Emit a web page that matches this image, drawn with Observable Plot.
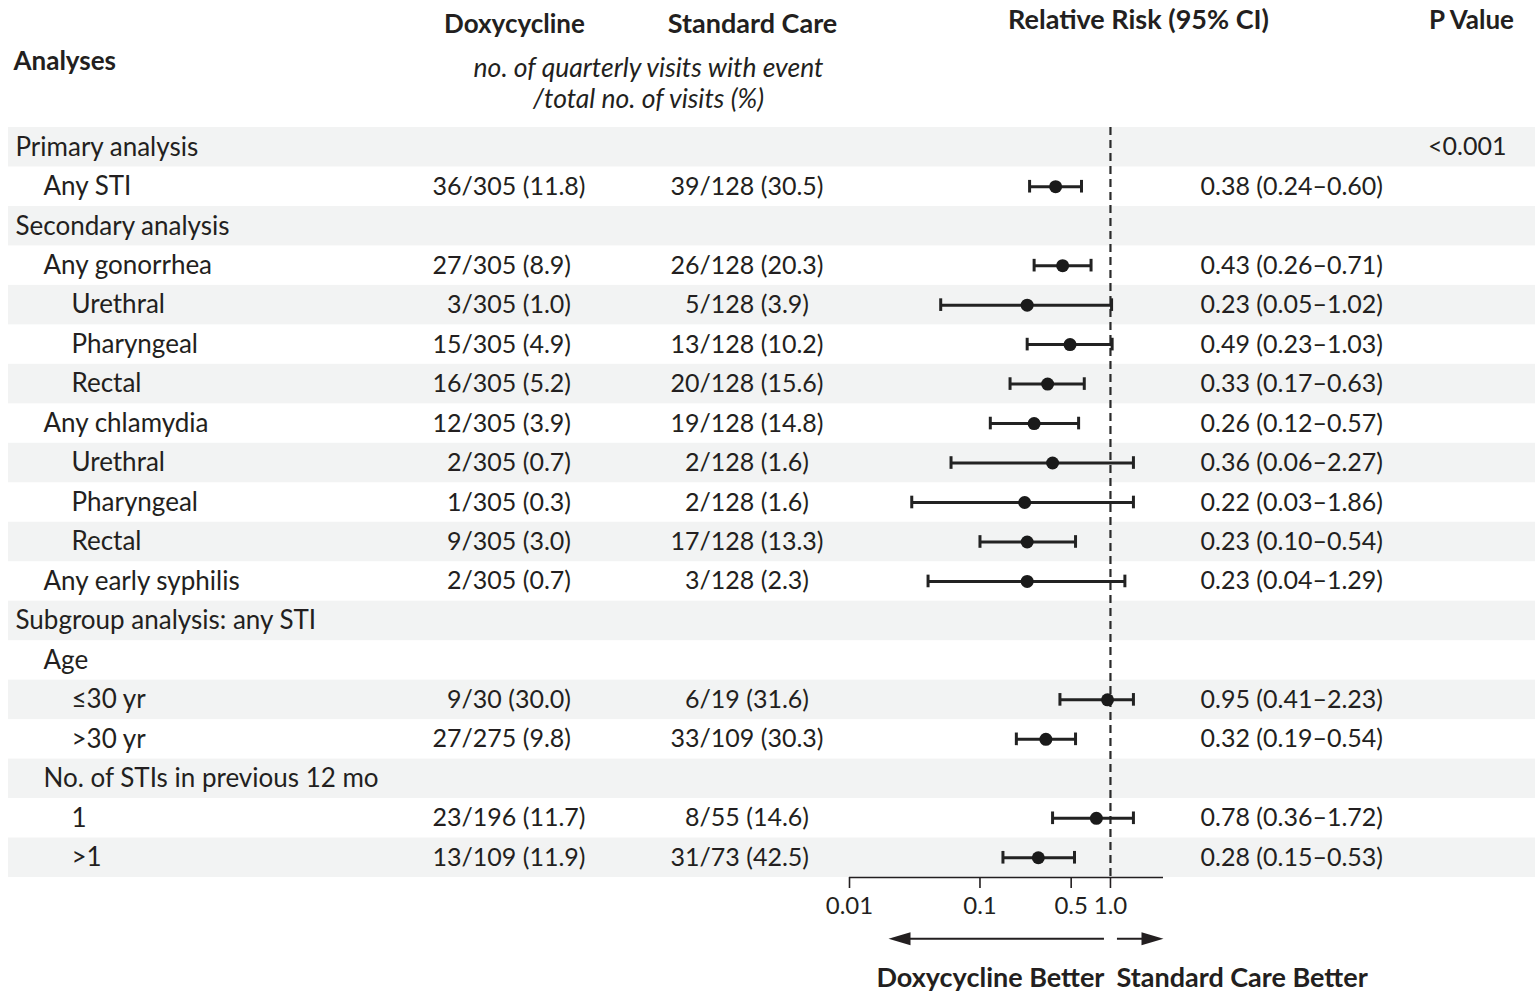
<!DOCTYPE html>
<html>
<head>
<meta charset="utf-8">
<script src="https://cdn.jsdelivr.net/npm/d3@7"></script>
<script src="https://cdn.jsdelivr.net/npm/@observablehq/plot@0.6"></script>
<style>
  html, body { margin: 0; padding: 0; background: #ffffff; }
  #chart svg { display: block; }
</style>
</head>
<body>
<div id="chart"></div>
<script>
// ---------- data ----------
const analyses = [
  "Primary analysis", "Any STI", "Secondary analysis", "Any gonorrhea", "Urethral",
  "Pharyngeal", "Rectal", "Any chlamydia", "Urethral", "Pharyngeal", "Rectal",
  "Any early syphilis", "Subgroup analysis: any STI", "Age", "\u226430 yr", ">30 yr",
  "No. of STIs in previous 12 mo", "1", ">1"
];
const indentLevels = [0, 1, 0, 1, 2, 2, 2, 1, 2, 2, 2, 1, 0, 1, 2, 2, 1, 2, 2];
const doxycycline = [
  "", "36/305 (11.8)", "", "27/305 (8.9)", "3/305 (1.0)", "15/305 (4.9)", "16/305 (5.2)",
  "12/305 (3.9)", "2/305 (0.7)", "1/305 (0.3)", "9/305 (3.0)", "2/305 (0.7)", "", "",
  "9/30 (30.0)", "27/275 (9.8)", "", "23/196 (11.7)", "13/109 (11.9)"
];
const standardCare = [
  "", "39/128 (30.5)", "", "26/128 (20.3)", "5/128 (3.9)", "13/128 (10.2)", "20/128 (15.6)",
  "19/128 (14.8)", "2/128 (1.6)", "2/128 (1.6)", "17/128 (13.3)", "3/128 (2.3)", "", "",
  "6/19 (31.6)", "33/109 (30.3)", "", "8/55 (14.6)", "31/73 (42.5)"
];
const relativeRisk = [null, 0.38, null, 0.43, 0.23, 0.49, 0.33, 0.26, 0.36, 0.22, 0.23, 0.23, null, null, 0.95, 0.32, null, 0.78, 0.28];
const ciLower     = [null, 0.24, null, 0.26, 0.05, 0.23, 0.17, 0.12, 0.06, 0.03, 0.10, 0.04, null, null, 0.41, 0.19, null, 0.36, 0.15];
const ciUpper     = [null, 0.60, null, 0.71, 1.02, 1.03, 0.63, 0.57, 2.27, 1.86, 0.54, 1.29, null, null, 2.23, 0.54, null, 1.72, 0.53];
const pValues = ["<0.001", "", "", "", "", "", "", "", "", "", "", "", "", "", "", "", "", "", ""];
const axisTicks = [0.01, 0.1, 0.5, 1.0];
const axisTickLabels = ["0.01", "0.1", "0.5", "1.0"];
const columnHeaders = ["Analyses", "Doxycycline", "Standard Care", "Relative Risk (95% CI)", "P Value"];
const unitLines = ["no. of quarterly visits with event", "/total no. of visits (%)"];
const favorLabels = ["Doxycycline Better", "Standard Care Better"];

// ---------- derived table ----------
const fmtRR = v => v.toFixed(2);
const splitCount = s => s ? [s.split("/")[0], "/" + s.split("/").slice(1).join("/")] : ["", ""];
const rows = analyses.map((label, i) => ({
  i, label, level: indentLevels[i],
  dNum: splitCount(doxycycline[i])[0], dRest: splitCount(doxycycline[i])[1],
  sNum: splitCount(standardCare[i])[0], sRest: splitCount(standardCare[i])[1],
  rr: relativeRisk[i], lo: ciLower[i], hi: ciUpper[i],
  rrText: relativeRisk[i] == null ? "" : `${fmtRR(relativeRisk[i])} (${fmtRR(ciLower[i])}\u2013${fmtRR(ciUpper[i])})`,
  p: pValues[i]
}));
const estimates = rows.filter(d => d.rr != null);
const ciDisplayMax = 1.5; // the figure truncates drawn intervals at this value
const nullEffect = 1;

// ---------- layout ----------
const W = 1539, H = 994;
const xDomain = [0.01, 2.55];
const yDomain = [-0.5, analyses.length - 0.5];
const ink = "#231f20";
const font = "Lato, 'Open Sans', sans-serif";
const numSize = 25, labelSize = 26;
const capHalf = 0.16;

const labelMark = (lvl, dx) => Plot.text(rows.filter(d => d.level === lvl), {
  y: "i", text: "label", frameAnchor: "left", dx, textAnchor: "start", fontSize: labelSize, fill: ink
});
const header = (text, dx, dy, opts = {}) => Plot.text([text], {
  frameAnchor: "top-left", lineAnchor: "middle", dx, dy, text: d => d,
  fontSize: 26, fontWeight: "bold", fill: ink, textAnchor: "middle", ...opts
});
const countMark = (field, slashX, anchor) => Plot.text(rows, {
  y: "i", text: field, frameAnchor: "left", dx: slashX - 8, textAnchor: anchor, fontSize: numSize, fill: ink
});

const arrowRow = yDomain[1] + 1.55;
const rightHead = { draw(ctx) { ctx.moveTo(11, 0); ctx.lineTo(-11, -6.5); ctx.lineTo(-11, 6.5); ctx.closePath(); } };
const leftHead  = { draw(ctx) { ctx.moveTo(-11, 0); ctx.lineTo(11, -6.5); ctx.lineTo(11, 6.5); ctx.closePath(); } };

const chart = Plot.plot({
  width: W, height: H,
  marginTop: 0, marginLeft: 8, marginRight: 4, marginBottom: H - 877,
  style: { fontFamily: font, color: ink, background: "#fff", overflow: "visible" },
  x: { type: "log", domain: xDomain, range: [849, 1163] },
  y: { domain: yDomain, range: [127, 877], axis: null },
  marks: [
    // zebra stripes
    Plot.rect(rows.filter(d => d.i % 2 === 0), { y1: d => d.i - 0.5, y2: d => d.i + 0.5, fill: "#f2f3f3" }),
    // headers
    header(columnHeaders[0], 5, 61, { textAnchor: "start" }),
    header(columnHeaders[1], 506, 24),
    header(columnHeaders[2], 744, 24, { fontSize: 27 }),
    header(columnHeaders[3], 1130, 20, { fontSize: 27 }),
    header(columnHeaders[4], 1463, 20),
    header(unitLines[0], 640, 68, { fontSize: 26.5, fontWeight: "normal", fontStyle: "italic" }),
    header(unitLines[1], 640, 99, { fontSize: 26.5, fontWeight: "normal", fontStyle: "italic" }),
    // row labels
    labelMark(0, 7), labelMark(1, 35), labelMark(2, 63),
    // counts, aligned on the slash
    countMark("dNum", 461, "end"), countMark("dRest", 461, "start"),
    countMark("sNum", 699, "end"), countMark("sRest", 699, "start"),
    // RR text and P value
    Plot.text(rows, { y: "i", text: "rrText", frameAnchor: "left", dx: 1200 - 8, textAnchor: "start", fontSize: numSize, fill: ink }),
    Plot.text(rows, { y: "i", text: "p", frameAnchor: "right", dx: -(1535 - 1506), textAnchor: "end", fontSize: numSize, fill: ink }),
    // null-effect line
    Plot.ruleX([nullEffect], { y1: yDomain[0], y2: yDomain[1], stroke: "#2a2a2a", strokeWidth: 2.2, strokeDasharray: "8,5" }),
    // axis
    Plot.ruleY([yDomain[1]], { x1: xDomain[0], x2: xDomain[1], stroke: ink, strokeWidth: 1.6 }),
    Plot.axisX({ ticks: axisTicks, tickFormat: d => axisTickLabels[axisTicks.indexOf(d)], tickSize: 11, tickPadding: 8,
      fontSize: 24, stroke: ink, strokeWidth: 1.6, color: ink, label: null }),
    // confidence intervals
    Plot.ruleY(estimates, { y: "i", x1: "lo", x2: d => Math.min(d.hi, ciDisplayMax), stroke: "#222", strokeWidth: 3 }),
    Plot.ruleX(estimates, { x: "lo", y1: d => d.i - capHalf, y2: d => d.i + capHalf, stroke: "#222", strokeWidth: 3 }),
    Plot.ruleX(estimates, { x: d => Math.min(d.hi, ciDisplayMax), y1: d => d.i - capHalf, y2: d => d.i + capHalf, stroke: "#222", strokeWidth: 3 }),
    Plot.dot(estimates, { x: "rr", y: "i", r: 6.5, fill: "#1a1a1a", stroke: null }),
    // favour arrows
    Plot.ruleY([arrowRow], { x1: xDomain[0], x2: nullEffect, insetLeft: 50, insetRight: 6, stroke: ink, strokeWidth: 2 }),
    Plot.ruleY([arrowRow], { x1: nullEffect, x2: xDomain[1], insetLeft: 7, insetRight: 11, stroke: ink, strokeWidth: 2 }),
    Plot.dot([xDomain[0]], { x: d => d, y: arrowRow, dx: 50, symbol: leftHead, r: 4, fill: ink, stroke: null }),
    Plot.dot([xDomain[1]], { x: d => d, y: arrowRow, dx: -11, symbol: rightHead, r: 4, fill: ink, stroke: null }),
    Plot.text([favorLabels[0]], { frameAnchor: "bottom", lineAnchor: "middle", x: nullEffect, text: d => d, textAnchor: "end", dx: -6, dy: 101, fontSize: 27, fontWeight: "bold", fill: ink }),
    Plot.text([favorLabels[1]], { frameAnchor: "bottom", lineAnchor: "middle", x: nullEffect, text: d => d, textAnchor: "start", dx: 6, dy: 101, fontSize: 27, fontWeight: "bold", fill: ink })
  ]
});
document.getElementById("chart").appendChild(chart);
</script>
</body>
</html>
